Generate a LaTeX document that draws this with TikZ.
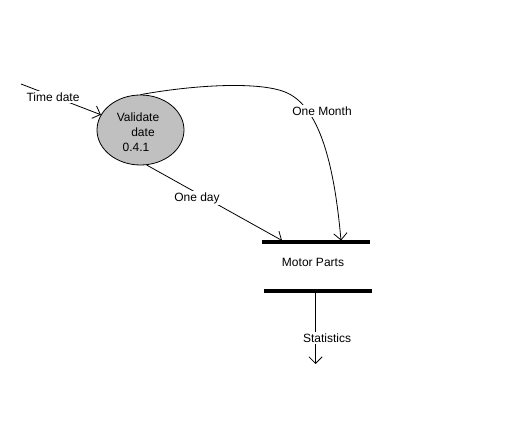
\documentclass[tikz,border=0pt]{standalone}
\usepackage{fontspec}
\setmainfont{Liberation Sans}
\usetikzlibrary{shapes.geometric,arrows.meta}
\begin{document}
\begin{tikzpicture}[x=0.75pt,y=-0.75pt,
  lbl/.style={font=\fontsize{9}{10}\selectfont, text=black, inner sep=1pt},
  wlbl/.style={lbl, fill=white},
  flow/.style={draw=black, line width=0.6pt, -{Straight Barb[length=5pt,width=10pt,line width=0.6pt]}},
  bar/.style={draw=black, line width=2.4pt},
  proc/.style={ellipse, draw=black, line width=0.6pt, fill={rgb,255:red,192;green,192;blue,192}, minimum width=65.25pt, minimum height=52.5pt, inner sep=0pt}]
\useasboundingbox (0,0) rectangle (523,448);
\node[proc] (v) at (140.5,130) {};
\node[lbl] (v1) at (138,117) {Validate};
\node[lbl] (v2) at (143,132) {date};
\node[lbl] (v3) at (136,147) {0.4.1};
% data store
\coordinate (b1l) at (262,242);
\coordinate (b1r) at (370,242);
\coordinate (b2l) at (264,291);
\coordinate (b2r) at (372,291);
\draw[bar] (b1l) -- (b1r);
\draw[bar] (b2l) -- (b2r);
\node[lbl] (mp) at (313,262) {Motor Parts};
% flows
\coordinate (td0) at (21,84);
\draw[flow] (td0) -- (v);
\node[wlbl] (tdl) at (53,97) {Time date};
\coordinate (odend) at (282,240.5);
\draw[flow] (v.-80) -- (odend);
\node[wlbl] (odl) at (197,198) {One day};
\coordinate (omend) at (341,240.5);
\coordinate (ommid) at (285,92);
\draw[flow] (v.north) .. controls (200,84) and (260,82) .. (ommid) .. controls (315,104) and (333,150) .. (omend);
\node[wlbl] (oml) at (322,111) {One Month};
\coordinate (stbeg) at (315.5,291);
\coordinate (stend) at (315.5,364);
\draw[flow] (stbeg) -- (stend);
\node[wlbl] (stl) at (327,338) {Statistics};
\end{tikzpicture}
\end{document}
